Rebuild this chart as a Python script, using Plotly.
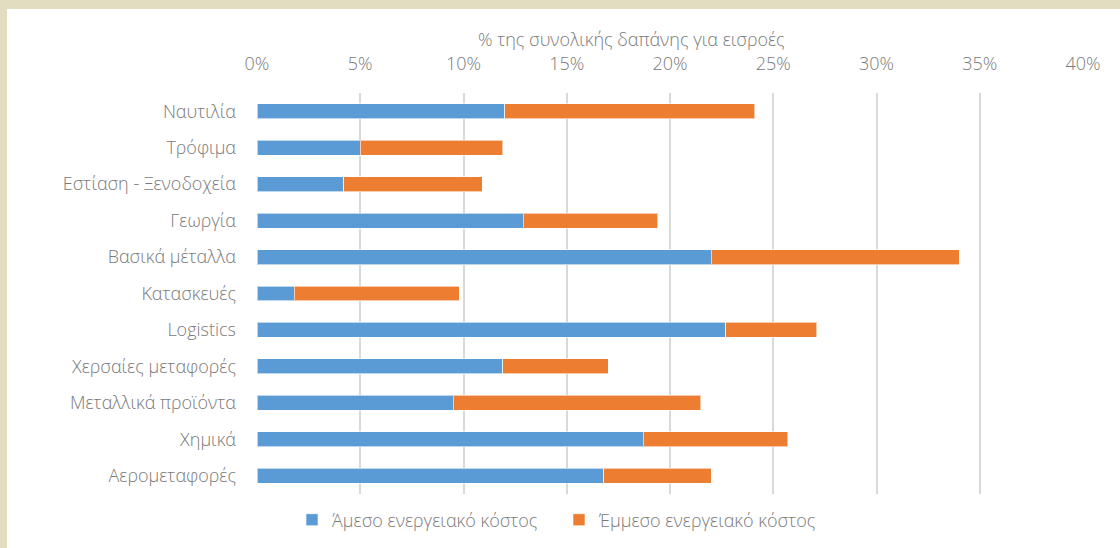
import plotly.graph_objects as go

# sectors, top to bottom
sectors = ["Ναυτιλία", "Τρόφιμα", "Εστίαση - Ξενοδοχεία", "Γεωργία", "Βασικά μέταλλα",
           "Κατασκευές", "Logistics", "Χερσαίες μεταφορές", "Μεταλλικά προϊόντα",
           "Χημικά", "Αερομεταφορές"]

# % of total spending on inputs
direct_cost = [12.0, 5.0, 4.2, 12.9, 22.0, 1.8, 22.7, 11.9, 9.5, 18.7, 16.8]
indirect_cost = [12.1, 6.9, 6.7, 6.5, 12.0, 8.0, 4.4, 5.1, 12.0, 7.0, 5.2]

x_ticks = [0, 5, 10, 15, 20, 25, 30, 35, 40]
x_tick_text = ["0%", "5%", "10%", "15%", "20%", "25%", "30%", "35%", "40%"]

W, H = 1120, 548
ML, MR, MT, MB = 257, 37, 93, 54
PW, PH = W - ML - MR, H - MT - MB


def px_x(px):
    return (px - ML) / PW


def px_y(py):
    return (H - MB - py) / PH


txt = dict(family="Open Sans, Noto Sans, sans-serif", size=18, color="#7a7a7a", weight=300)

fig = go.Figure()
fig.add_trace(go.Bar(
    y=sectors, x=direct_cost, orientation="h", name="Άμεσο ενεργειακό κόστος",
    marker=dict(color="#5B9BD5", line=dict(color="rgba(255,255,255,0.6)", width=1)),
))
fig.add_trace(go.Bar(
    y=sectors, x=indirect_cost, orientation="h", name="Έμμεσο ενεργειακό κόστος",
    marker=dict(color="#ED7D31", line=dict(color="rgba(255,255,255,0.6)", width=1)),
))

fig.update_layout(
    width=W, height=H,
    margin=dict(l=ML, r=MR, t=MT, b=MB, autoexpand=False),
    barmode="stack", bargap=0.59,
    paper_bgcolor="white", plot_bgcolor="white",
    font=txt,
    legend=dict(orientation="h", x=px_x(292), y=px_y(520), xanchor="left", yanchor="middle",
                traceorder="normal", font=txt, entrywidth=222, itemwidth=30),
    xaxis=dict(side="top", range=[0, 40], tickvals=x_ticks, ticktext=x_tick_text,
               showgrid=True, gridcolor="#D9D9D9", gridwidth=2, zeroline=False,
               ticks="outside", ticklen=15, tickcolor="rgba(0,0,0,0)",
               tickfont=txt, automargin=False, fixedrange=True),
    yaxis=dict(autorange="reversed", showgrid=False, ticks="", ticklabelstandoff=20,
               tickfont=txt, automargin=False, fixedrange=True),
    showlegend=True,
)

fig.add_annotation(text="% της συνολικής δαπάνης για εισροές", xref="paper", yref="paper",
                   x=px_x(631), y=px_y(39), showarrow=False, xanchor="center", yanchor="middle",
                   font=txt)

# beige frame strips on left and top
beige = "#E2DDC0"
fig.add_shape(type="rect", xref="paper", yref="paper", x0=px_x(0), x1=px_x(7),
              y0=px_y(H), y1=px_y(0), fillcolor=beige, line_width=0, layer="above")
fig.add_shape(type="rect", xref="paper", yref="paper", x0=px_x(0), x1=px_x(W),
              y0=px_y(9), y1=px_y(0), fillcolor=beige, line_width=0, layer="above")

# drop the default page margin so the figure sits at the window's corner
fig.write_html("out.html", config={"displayModeBar": False},
               post_script="document.body.style.margin='0';")
